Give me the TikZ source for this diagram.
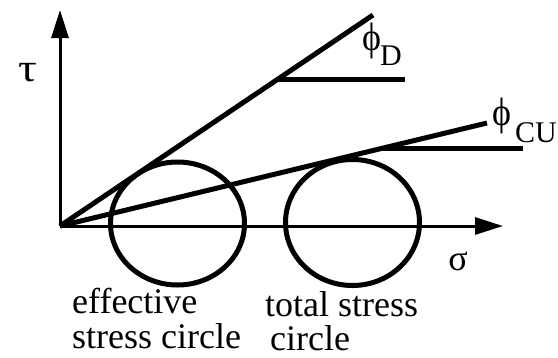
\documentclass[tikz,border=0pt]{standalone}
\usepackage{fontspec}
\setmainfont{Liberation Serif}
\usetikzlibrary{arrows.meta}
\begin{document}
\begin{tikzpicture}[x=1pt,y=-1pt,
  axis/.style={line width=3pt,-{Triangle[length=28pt,width=17pt]}},
  envelope/.style={line width=5pt},
  mohr/.style={line width=5pt},
  lbl/.style={inner sep=0pt,text depth=0pt,font=\fontsize{36}{37}\selectfont},
  sub/.style={inner sep=0pt,text depth=0pt,font=\fontsize{30}{30}\selectfont}]
\useasboundingbox (0,0) rectangle (558,357);
\coordinate (O) at (60,226);
\coordinate (ytip) at (60,10);
\coordinate (xtip) at (503,226);
\coordinate (Dend) at (373,15);
\coordinate (CUend) at (487,123);
\coordinate (Dh1) at (278,79);
\coordinate (Dh2) at (405,79);
\coordinate (CUh1) at (383,148);
\coordinate (CUh2) at (523,148);
\draw[axis] (O) -- (ytip);
\draw[axis] (O) -- (xtip);
\draw[mohr] (177.5,223.5) ellipse [x radius=67, y radius=61.5];
\draw[mohr] (352.5,222.5) ellipse [x radius=67, y radius=63];
\draw[envelope] (O) -- (Dend);
\draw[envelope] (O) -- (CUend);
\draw[envelope] (Dh1) -- (Dh2);
\draw[envelope] (CUh1) -- (CUh2);
\node[lbl] (tau) at (28,72) {\scalebox{1.3}[1.1]{τ}};
\node[lbl] (sigma) at (458,261) {σ};
\node[lbl,anchor=base west] (phiD) at (362,50) {\scalebox{1}[1.1]{ϕ}};
\node[sub,anchor=base west] (D) at (380,65) {D};
\node[lbl,anchor=base west] (phiCU) at (492,125) {\scalebox{1}[1.1]{ϕ}};
\node[sub,anchor=base west] (CU) at (515,142) {CU};
\node[lbl,anchor=base west] (eff1) at (72,313) {effective};
\node[lbl,anchor=base west] (eff2) at (72,348) {stress circle};
\node[lbl,anchor=base west] (tot1) at (265,316) {total stress};
\node[lbl,anchor=base west] (tot2) at (270,350) {circle};
\end{tikzpicture}
\end{document}
